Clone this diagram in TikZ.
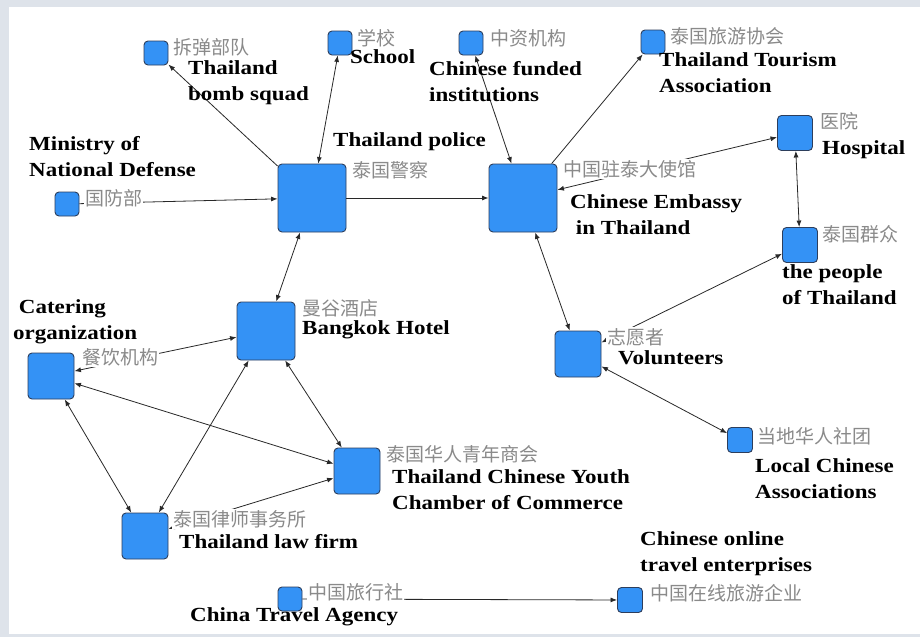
\documentclass[tikz,border=0pt]{standalone}
\usepackage{fontspec}
\setmainfont{Liberation Serif}
\newfontfamily\cjk{Noto Sans CJK SC}
\newfontfamily\en[FakeStretch=1.15]{Liberation Serif}
\usetikzlibrary{arrows.meta}
\definecolor{boxblue}{RGB}{52,146,245}
\definecolor{boxline}{RGB}{45,62,92}
\definecolor{cngray}{RGB}{138,138,138}
\definecolor{edgegray}{RGB}{40,40,40}
\definecolor{bggray}{RGB}{222,227,234}

\tikzset{
  box/.style={draw=boxline, fill=boxblue, line width=.9pt, inner sep=0pt, minimum size=#1, rounded corners=4pt},
  cn/.style={anchor=west, fill=white, inner sep=1pt, text=cngray, font=\cjk\fontsize{19}{22}\selectfont},
  en/.style={anchor=west, inner sep=0pt, align=left, font=\en\bfseries\fontsize{20}{26}\selectfont},
  tip/.tip={Latex[length=6.5pt,width=5pt]},
  rel/.style={draw=edgegray, line width=.8pt, -tip},
  both/.style={draw=edgegray, line width=.8pt, tip-tip}
}

\begin{document}
\begin{tikzpicture}[x=1pt,y=-1pt]
            \fill[bggray] (0,0) rectangle (920,637);
            \fill[white] (9,7) rectangle (920,634);
            \useasboundingbox (0,0) rectangle (920,637);

            % actors
            \node[box=68pt] (police) at (312,198) {};
            \node[box=68pt] (embassy) at (523,198) {};
            \node[box=24pt] (bomb) at (156,53) {};
            \node[box=24pt] (school) at (340,43) {};
            \node[box=24pt] (defense) at (67,204) {};
            \node[box=24pt] (funded) at (471,43) {};
            \node[box=24pt] (tourism) at (653,42) {};
            \node[box=35pt] (hospital) at (795,133) {};
            \node[box=35pt] (people) at (800,245) {};
            \node[box=58pt] (hotel) at (266,331) {};
            \node[box=46pt] (catering) at (51,376) {};
            \node[box=46pt] (youth) at (357,471) {};
            \node[box=46pt] (lawfirm) at (145,536) {};
            \node[box=46pt] (volunteers) at (578,354) {};
            \node[box=25pt] (localcn) at (740,440) {};
            \node[box=24pt] (travel) at (290,599) {};
            \node[box=25pt] (online) at (630,600) {};

            % relations
            \draw[rel] (police) -- (bomb);
            \draw[both] (police) -- (school);
            \draw[rel] (defense) -- (police);
            \draw[rel] (police) -- (embassy);
            \draw[both] (embassy) -- (funded);
            \draw[rel] (embassy) -- (tourism);
            \draw[both] (embassy) -- (hospital);
            \draw[both] (hospital) -- (people);
            \draw[both] (volunteers) -- (people);
            \draw[both] (embassy) -- (volunteers);
            \draw[both] (volunteers) -- (localcn);
            \draw[both] (police) -- (hotel);
            \draw[both] (catering) -- (hotel);
            \draw[both] (catering) -- (youth);
            \draw[both] (catering) -- (lawfirm);
            \draw[both] (hotel) -- (lawfirm);
            \draw[both] (hotel) -- (youth);
            \draw[both] (lawfirm) -- (youth);
            \draw[rel] (travel) -- (online);

            % chinese names
            \node[cn] (bombcn) at (172,47) {拆弹部队};
            \node[cn] (schoolcn) at (356,38) {学校};
            \node[cn] (policecn) at (351,170) {泰国警察};
            \node[cn] (defensecn) at (84,198) {国防部};
            \node[cn] (fundedcn) at (489,38) {中资机构};
            \node[cn] (tourismcn) at (669,36) {泰国旅游协会};
            \node[cn] (hospitalcn) at (819,121) {医院};
            \node[cn] (embassycn) at (562,169) {中国驻泰大使馆};
            \node[cn] (peoplecn) at (821,234) {泰国群众};
            \node[cn] (hotelcn) at (301,308) {曼谷酒店};
            \node[cn] (cateringcn) at (81,357) {餐饮机构};
            \node[cn] (youthcn) at (385,454) {泰国华人青年商会};
            \node[cn] (lawfirmcn) at (172,519) {泰国律师事务所};
            \node[cn] (travelcn) at (307,592) {中国旅行社};
            \node[cn] (volunteerscn) at (606,337) {志愿者};
            \node[cn] (localcncn) at (756,436) {当地华人社团};
            \node[cn] (onlinecn) at (649,593) {中国在线旅游企业};

            % english names
            \node[en] (bomben) at (188,83) {Thailand\\bomb squad};
            \node[en] (schoolen) at (350,57) {School};
            \node[en] (policeen) at (333,142) {Thailand police};
            \node[en] (defenseen) at (29,157) {Ministry of\\National Defense};
            \node[en] (fundeden) at (429,82) {Chinese funded\\institutions};
            \node[en] (tourismen) at (659,73) {Thailand Tourism\\Association};
            \node[en] (hospitalen) at (822,150) {Hospital};
            \node[en] (embassyen) at (570,215) {Chinese Embassy\\\ in Thailand};
            \node[en] (peopleen) at (782,285) {the people\\of Thailand};
            \node[en] (hotelen) at (302,330) {Bangkok Hotel};
            \node[en] (cateringen) at (13,322) {\ Catering\\organization};
            \node[en] (youthen) at (392,490) {Thailand Chinese Youth\\Chamber of Commerce};
            \node[en] (lawfirmen) at (179,542) {Thailand law firm};
            \node[en] (travelen) at (190,617) {China Travel Agency};
            \node[en] (volunteersen) at (618,358) {Volunteers};
            \node[en] (localcnen) at (755,479) {Local Chinese\\Associations};
            \node[en] (onlineen) at (640,554) {Chinese online\\travel enterprises};

        \end{tikzpicture}
\end{document}
